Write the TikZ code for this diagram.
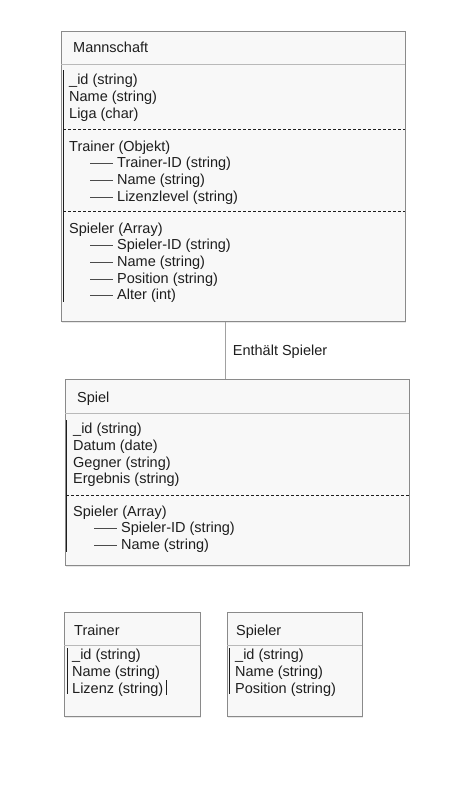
\documentclass[tikz,border=0pt]{standalone}
\usepackage{fontspec}
\setmainfont{Liberation Sans}
\usetikzlibrary{shadows}
\definecolor{boxfill}{HTML}{F8F8F8}
\definecolor{boxline}{HTML}{8A8A8A}
\definecolor{textdark}{HTML}{1E1E1E}
\newcommand{\subdash}{\textcolor{textdark!80}{\rule[0.45ex]{23pt}{0.7pt}}\hspace{4pt}}
\tikzset{
  tbl/.style={draw=boxline, fill=boxfill, line width=0.9pt, anchor=north west, inner sep=0pt,
    drop shadow={opacity=0.18, shadow xshift=1pt, shadow yshift=-1.5pt}},
  txt/.style={anchor=mid west, inner sep=0pt, yshift=-2.5pt, text=textdark, font=\fontsize{14.5}{16}\selectfont},
  titlesep/.style={draw=boxline!60, line width=0.8pt},
  dashsep/.style={draw=textdark, line width=0.8pt, dash pattern=on 3pt off 2pt},
  lbar/.style={draw=textdark, line width=0.9pt},
  conn/.style={draw=boxline!80, line width=0.9pt}
}
\begin{document}
\begin{tikzpicture}[x=1pt, y=-1pt]
  \useasboundingbox[fill=white] (0,0) rectangle (451,790);

  % Mannschaft
  \node[tbl, minimum width=344pt, minimum height=290pt] (mann) at (61,31) {};
  \node[txt] (manntitle) at (73,47) {Mannschaft};
  \draw[titlesep] (61,64) -- (405,64);
  \draw[lbar] (63,70) -- (63,302);
  \node[txt] (mannid) at (69,79) {\_id (string)};
  \node[txt] (mannname) at (69,96) {Name (string)};
  \node[txt] (mannliga) at (69,113) {Liga (char)};
  \draw[dashsep] (63,129) -- (405,129);
  \node[txt] (manntr) at (69,146) {Trainer (Objekt)};
  \node[txt] (manntrid) at (90,162) {\subdash Trainer-ID (string)};
  \node[txt] (manntrname) at (90,179) {\subdash Name (string)};
  \node[txt] (manntrlvl) at (90,196) {\subdash Lizenzlevel (string)};
  \draw[dashsep] (63,211) -- (405,211);
  \node[txt] (mannsp) at (69,228) {Spieler (Array)};
  \node[txt] (mannspid) at (90,244) {\subdash Spieler-ID (string)};
  \node[txt] (mannspname) at (90,261) {\subdash Name (string)};
  \node[txt] (mannsppos) at (90,278) {\subdash Position (string)};
  \node[txt] (mannspalt) at (90,294) {\subdash Alter (int)};

  % Spiel
  \node[tbl, minimum width=344pt, minimum height=186pt] (spiel) at (65,379) {};
  \node[txt] (spieltitle) at (77,397) {Spiel};
  \draw[titlesep] (65,413) -- (409,413);
  \draw[lbar] (66,420) -- (66,552);
  \node[txt] (spielid) at (73,428) {\_id (string)};
  \node[txt] (spieldat) at (73,445) {Datum (date)};
  \node[txt] (spielgeg) at (73,462) {Gegner (string)};
  \node[txt] (spielerg) at (73,478) {Ergebnis (string)};
  \draw[dashsep] (66,495) -- (409,495);
  \node[txt] (spielsp) at (73,511) {Spieler (Array)};
  \node[txt] (spielspid) at (94,527) {\subdash Spieler-ID (string)};
  \node[txt] (spielspname) at (94,544) {\subdash Name (string)};

  \draw[conn] ([xshift=-8pt]mann.south) -- ([xshift=-8pt]mann.south |- spiel.north)
    node[midway, right=7pt, txt, anchor=mid west] (connlabel) {Enthält Spieler};

  % Trainer
  \node[tbl, minimum width=136pt, minimum height=104pt] (trainer) at (64,612) {};
  \node[txt] (trainertitle) at (74,630) {Trainer};
  \draw[titlesep] (64,645) -- (200,645);
  \draw[lbar] (67,648) -- (67,694);
  \node[txt] (trainerid) at (72,654) {\_id (string)};
  \node[txt] (trainername) at (72,671) {Name (string)};
  \node[txt] (trainerliz) at (72,688) {Lizenz (string)};
  \draw[lbar] ([xshift=2.5pt]trainerliz.east |- 0,680) -- ([xshift=2.5pt]trainerliz.east |- 0,695);

  % Spieler
  \node[tbl, minimum width=135pt, minimum height=104pt] (spieler) at (227,612) {};
  \node[txt] (spielertitle) at (236,630) {Spieler};
  \draw[titlesep] (227,645) -- (362,645);
  \draw[lbar] (229,648) -- (229,694);
  \node[txt] (spielerid) at (235,654) {\_id (string)};
  \node[txt] (spielername) at (235,671) {Name (string)};
  \node[txt] (spielerpos) at (235,688) {Position (string)};
\end{tikzpicture}
\end{document}
